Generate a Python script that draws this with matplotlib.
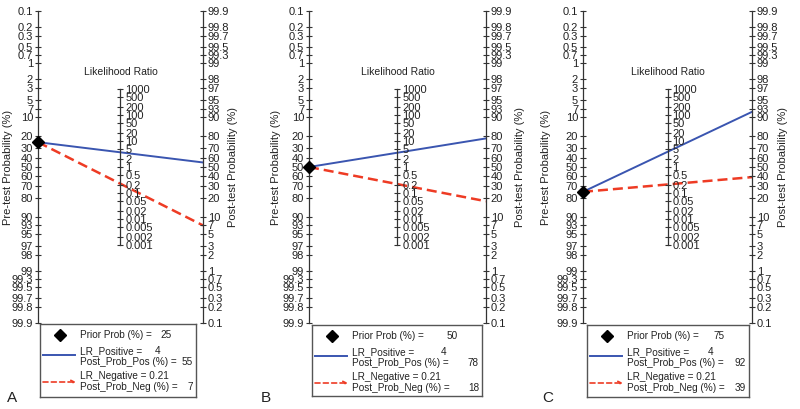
import numpy as np
import matplotlib
matplotlib.use('Agg')
import matplotlib.pyplot as plt

plt.rcParams['font.family'] = ['Liberation Sans', 'DejaVu Sans']

# Fagan nomogram data (three scenarios)
panel_names = ['A', 'B', 'C']
prior_prob = [25, 50, 75]
post_prob_pos = [55, 78, 92]
post_prob_neg = [7, 18, 39]
lr_positive = 4
lr_negative = 0.21

pre_ticks = [0.1, 0.2, 0.3, 0.5, 0.7, 1, 2, 3, 5, 7, 10, 20, 30, 40, 50, 60, 70, 80,
             90, 93, 95, 97, 98, 99, 99.3, 99.5, 99.7, 99.8, 99.9]
post_ticks = [99.9, 99.8, 99.7, 99.5, 99.3, 99, 98, 97, 95, 93, 90, 80, 70, 60, 50, 40,
              30, 20, 10, 7, 5, 3, 2, 1, 0.7, 0.5, 0.3, 0.2, 0.1]
lr_ticks = [1000, 500, 200, 100, 50, 20, 10, 5, 2, 1, 0.5, 0.2, 0.1, 0.05, 0.02, 0.01,
            0.005, 0.002, 0.001]

BLUE = '#3a55b0'
RED = '#ee3b24'
AXC = '#333333'
TXT = '#222222'

W, H = 800, 409
# pixel geometry of each panel: left axis x, right axis x
panel_x = [(38, 203), (309, 486), (583, 752)]
legend_box = [(40, 324, 196, 397), (312, 325, 482, 396), (587, 325, 749, 397)]
letter_pos = [(12, 398), (266, 398), (548, 398)]
ylab_left = [8, 276, 546]
ylab_right = [233, 520, 783]
Y_TOP, Y_BOT = 11, 323


def logit(p):
    p = np.asarray(p, dtype=float) / 100.0
    return np.log(p / (1 - p))


def fmt(v):
    return ('%g' % v)


def rect(x0, x1, ytop, ybot):
    return [x0 / W, 1 - ybot / H, (x1 - x0) / W, (ybot - ytop) / H]


YL = float(logit(99.9))

fig = plt.figure(figsize=(8, 4.09), dpi=100)

tick_kw = dict(direction='inout', length=5, width=0.8, color=AXC, labelsize=8,
               labelcolor=TXT, pad=1)

for i in range(3):
    x0, x1 = panel_x[i]
    ax = fig.add_axes(rect(x0, x1, Y_TOP, Y_BOT))
    ax.set_xlim(0, 1)
    ax.set_ylim(YL, -YL)
    ax.patch.set_visible(False)
    for s in ['top', 'bottom', 'right']:
        ax.spines[s].set_visible(False)
    ax.spines['left'].set_color(AXC)
    ax.spines['left'].set_linewidth(0.9)
    ax.set_xticks([])
    ax.set_yticks(logit(pre_ticks))
    ax.set_yticklabels([fmt(t) for t in pre_ticks])
    ax.tick_params(axis='y', **tick_kw)

    # post-test axis
    axr = ax.twinx()
    axr.set_ylim(YL, -YL)
    for s in ['top', 'bottom', 'left']:
        axr.spines[s].set_visible(False)
    axr.spines['right'].set_color(AXC)
    axr.spines['right'].set_linewidth(0.9)
    axr.set_yticks(-logit(post_ticks))
    axr.set_yticklabels([fmt(t) for t in post_ticks])
    axr.tick_params(axis='y', **tick_kw)

    # likelihood ratio axis
    xm = (x0 + x1) / 2.0
    axm = fig.add_axes(rect(xm - 0.01, xm, Y_TOP, Y_BOT))
    axm.set_ylim(YL, -YL)
    axm.patch.set_visible(False)
    for s in ['top', 'bottom', 'left']:
        axm.spines[s].set_visible(False)
    lr_y = -np.log(lr_ticks) / 2.0
    axm.spines['right'].set_bounds(lr_y.min(), lr_y.max())
    axm.spines['right'].set_color(AXC)
    axm.spines['right'].set_linewidth(0.9)
    axm.set_xticks([])
    axm.yaxis.tick_right()
    axm.set_yticks(lr_y)
    axm.set_yticklabels([fmt(t) for t in lr_ticks])
    axm.tick_params(axis='y', **tick_kw)
    axm.text(1.0, float(logit(1.5)), 'Likelihood Ratio', transform=axm.get_yaxis_transform(),
             ha='center', va='center', fontsize=7.5, color=TXT)

    # nomogram lines
    y_prior = float(logit(prior_prob[i]))
    ax.plot([0, 1], [y_prior, -float(logit(post_prob_pos[i]))], color=BLUE, lw=1.4,
            clip_on=False, zorder=3)
    ax.plot([0, 1], [y_prior, -float(logit(post_prob_neg[i]))], color=RED, lw=1.8,
            ls=(0, (4, 2)), clip_on=False, zorder=3)
    ax.plot([0], [y_prior], marker='D', color='black', ms=6, clip_on=False, zorder=4)

    # axis titles
    fig.text(ylab_left[i] / W, 1 - 167 / H, 'Pre-test Probability (%)', rotation=90,
             ha='center', va='center', fontsize=8, color=TXT)
    fig.text(ylab_right[i] / W, 1 - 167 / H, 'Post-test Probability (%)', rotation=90,
             ha='center', va='center', fontsize=8, color=TXT)

    # legend box
    lx0, ly0, lx1, ly1 = legend_box[i]
    axl = fig.add_axes(rect(lx0, lx1, ly0, ly1))
    bw, bh = lx1 - lx0, ly1 - ly0
    axl.set_xlim(0, bw)
    axl.set_ylim(bh, 0)
    axl.set_xticks([])
    axl.set_yticks([])
    for s in axl.spines.values():
        s.set_color('#555555')
        s.set_linewidth(1.0)
    tx = 40
    lk = dict(fontsize=7.2, color=TXT, va='center')
    axl.plot([20], [11], marker='D', color='black', ms=6)
    axl.text(tx, 11, 'Prior Prob (%) =', ha='left', **lk)
    axl.text(bw - 24, 11, fmt(prior_prob[i]), ha='right', **lk)
    axl.plot([3, 35], [31, 31], color=BLUE, lw=1.4)
    axl.text(tx, 27, 'LR_Positive =', ha='left', **lk)
    axl.text(bw - 36, 27, fmt(lr_positive), ha='right', **lk)
    axl.text(tx, 38, 'Post_Prob_Pos (%) =', ha='left', **lk)
    axl.text(bw - 3, 38, fmt(post_prob_pos[i]), ha='right', **lk)
    axl.annotate('', xy=(36, 58), xytext=(3, 58),
                 arrowprops=dict(arrowstyle='->', color=RED, lw=1.2, ls=(0, (3, 2)),
                                 shrinkA=0, shrinkB=0, mutation_scale=6))
    axl.text(tx, 52, 'LR_Negative = ' + fmt(lr_negative), ha='left', **lk)
    axl.text(tx, 63, 'Post_Prob_Neg (%) =', ha='left', **lk)
    axl.text(bw - 3, 63, fmt(post_prob_neg[i]), ha='right', **lk)

    lxp, lyp = letter_pos[i]
    fig.text(lxp / W, 1 - lyp / H, panel_names[i], ha='center', va='center',
             fontsize=11, color=TXT)

fig.savefig('out.png', dpi=100)
